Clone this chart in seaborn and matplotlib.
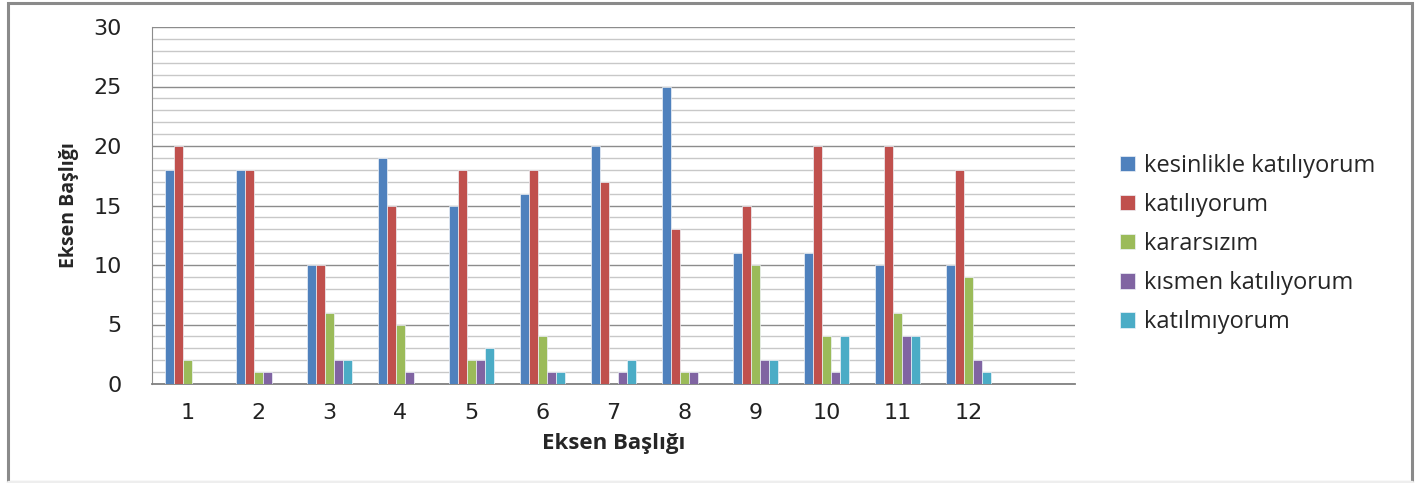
import pandas as pd
import seaborn as sns
import matplotlib.pyplot as plt
from matplotlib.patches import Rectangle
from matplotlib.lines import Line2D
from matplotlib.ticker import MultipleLocator

# data
questions = ['1', '2', '3', '4', '5', '6', '7', '8', '9', '10', '11', '12']
series = ['kesinlikle katılıyorum', 'katılıyorum', 'kararsızım',
          'kısmen katılıyorum', 'katılmıyorum']
kesinlikle = [18, 18, 10, 19, 15, 16, 20, 25, 11, 11, 10, 10]
katiliyorum = [20, 18, 10, 15, 18, 18, 17, 13, 15, 20, 20, 18]
kararsizim = [2, 1, 6, 5, 2, 4, 0, 1, 10, 4, 6, 9]
kismen = [0, 1, 2, 1, 2, 1, 1, 1, 2, 1, 4, 2]
katilmiyorum = [0, 0, 2, 0, 3, 1, 2, 0, 2, 4, 4, 1]
colors = ['#4F81BD', '#C0504D', '#9BBB59', '#8064A2', '#4BACC6']

df = pd.DataFrame({'soru': questions, series[0]: kesinlikle, series[1]: katiliyorum,
                   series[2]: kararsizim, series[3]: kismen, series[4]: katilmiyorum})
long = df.melt(id_vars='soru', var_name='cevap', value_name='sayi')

sns.set_style('white')
plt.rcParams['font.family'] = ['Open Sans', 'DejaVu Sans']

fig = plt.figure(figsize=(14.19, 4.83), dpi=100)
ax = fig.add_axes([152 / 1419, 1 - 384 / 483, (1075 - 152) / 1419, (384 - 27) / 483])

sns.barplot(data=long, x='soru', y='sayi', hue='cevap', order=questions,
            hue_order=series, palette=colors, saturation=1, width=0.64, ax=ax,
            edgecolor='#eef2f8', linewidth=0.5, legend=True, zorder=3)

ax.set_xlim(-0.5, 12.5)
ax.set_ylim(0, 30)
ax.yaxis.set_major_locator(MultipleLocator(5))
ax.yaxis.set_minor_locator(MultipleLocator(1))
ax.grid(which='major', axis='y', color='#8c8c8c', linewidth=1.0, zorder=0)
ax.grid(which='minor', axis='y', color='#c8c8c8', linewidth=1.0, zorder=0)
ax.set_axisbelow(True)

for s in ['top', 'right']:
    ax.spines[s].set_visible(False)
ax.spines['left'].set_color('#8c8c8c')
ax.spines['bottom'].set_color('#808080')
ax.spines['bottom'].set_linewidth(1.3)

ax.tick_params(axis='y', which='major', length=9, color='#8c8c8c', labelsize=16, pad=13)
ax.tick_params(axis='y', which='minor', length=0)
ax.tick_params(axis='x', length=0, labelsize=16, pad=14)
for lab in ax.get_yticklabels() + ax.get_xticklabels():
    lab.set_family('DejaVu Sans')
    lab.set_color('#222222')

ax.set_xlabel('Eksen Başlığı', fontsize=16, fontweight='bold', labelpad=7)
ax.set_ylabel('Eksen Başlığı', fontsize=14, fontweight='bold', labelpad=10)

ax.legend(loc='center left', bbox_to_anchor=(1.049, 0.392), frameon=False,
          fontsize=17, handlelength=0.62, handleheight=0.62, handletextpad=0.4,
          labelspacing=0.64, borderpad=0, borderaxespad=0)

# outer frame
fig.patches.append(Rectangle((8 / 1419, 0.002), 1404 / 1419, 1 - 3 / 483 - 0.002,
                             transform=fig.transFigure, fill=False,
                             edgecolor='#8a8a8a', linewidth=2.2))
fig.lines.append(Line2D([8 / 1419, 1412 / 1419], [0.003, 0.003], transform=fig.transFigure,
                        color='#eeeeee', linewidth=2.4))

fig.savefig('out.png', dpi=100)
